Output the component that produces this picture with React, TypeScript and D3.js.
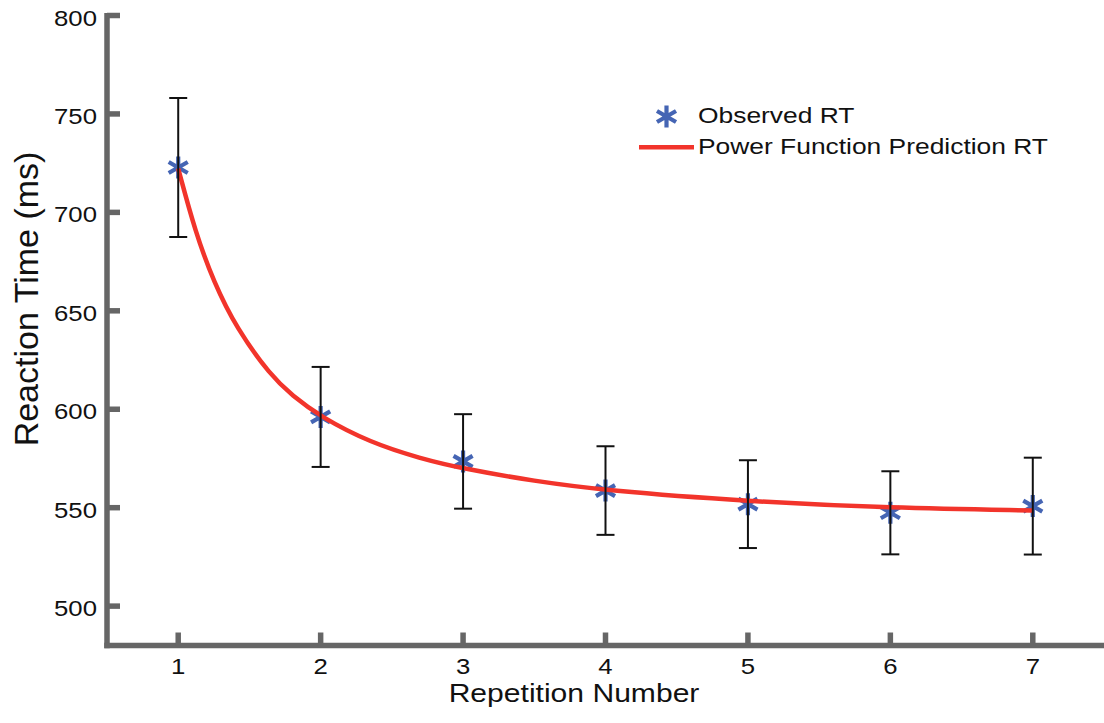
import React from "react";
import * as d3 from "d3";

// Observed reaction times (ms) per repetition, with error bar half-widths
const repetitions = [1, 2, 3, 4, 5, 6, 7];
const observedRT = [722.8, 596.1, 573.5, 558.7, 551.8, 547.4, 550.8];
const errorRT = [35.3, 25.4, 24.0, 22.5, 22.3, 21.1, 24.6];

// Power function prediction curve, sampled along repetition number
const predictionReps = [1.0, 1.12, 1.25, 1.41, 1.65, 1.8, 2.0, 2.35, 2.7, 3.0, 3.5, 4.0, 5.0, 6.0, 7.0];
const predictionRT = [722.3, 690, 664.5, 641, 617, 607, 596.1, 583, 575, 569.8, 563.5, 558.7, 553.2, 549.8, 548.6];

const yTicks = [500, 550, 600, 650, 700, 750, 800];
const xTicks = [1, 2, 3, 4, 5, 6, 7];

const legendLabels = ["Observed RT", "Power Function Prediction RT"];

const W = 1104;
const H = 723;
const AXIS_COLOR = "#666666";
const STAR_COLOR = "#4565b4";
const CURVE_COLOR = "#f2342b";
const TEXT_COLOR = "#111111";
const FONT = "'Liberation Sans', Arial, Helvetica, sans-serif";

const x = d3.scaleLinear().domain([0.5, 7.5]).range([107, 1104]);
const y = d3.scaleLinear().domain([480, 800]).range([645.5, 15.5]);

function Star({ cx, cy }: { cx: number; cy: number }) {
  // six-armed asterisk marker
  const r = 11;
  const t = r * Math.cos(Math.PI / 6);
  const u = r * Math.sin(Math.PI / 6);
  const d = `M0,${-r}L0,${r}M${-t},${-u}L${t},${u}M${-t},${u}L${t},${-u}`;
  return (
    <path
      d={d}
      transform={`translate(${cx},${cy})`}
      stroke={STAR_COLOR}
      strokeWidth={4.2}
      strokeLinecap="butt"
      fill="none"
    />
  );
}

export default function App() {
  const line = d3
    .line<number>()
    .x((_, i) => x(predictionReps[i]))
    .y((d) => y(d))
    .curve(d3.curveBasis);

  const [yMin, yMax] = y.domain();
  const [xMin, xMax] = x.domain();
  const capHalf = 9;

  return (
    <svg
      width={W}
      height={H}
      style={{ position: "absolute", left: 0, top: 0, background: "#ffffff" }}
      fontFamily={FONT}
    >
      <rect width={W} height={H} fill="#ffffff" />

      {/* axes */}
      <g stroke={AXIS_COLOR} strokeWidth={5.5} fill="none">
        <line x1={x(xMin)} x2={x(xMin)} y1={y(yMax) - 2.5} y2={y(yMin) + 2.75} />
        <line x1={x(xMin) - 2.75} x2={x(xMax)} y1={y(yMin)} y2={y(yMin)} />
        {yTicks.map((t) => (
          <line key={`yt${t}`} x1={x(xMin)} x2={x(xMin) + 13} y1={y(t)} y2={y(t)} />
        ))}
        {xTicks.map((t) => (
          <line key={`xt${t}`} x1={x(t)} x2={x(t)} y1={y(yMin)} y2={y(yMin) - 13} />
        ))}
      </g>

      {/* tick labels */}
      <g fill={TEXT_COLOR} fontSize={23}>
        {yTicks.map((t) => (
          <text
            key={`yl${t}`}
            transform={`translate(${x(xMin) - 10},${y(t) + 10}) scale(1.12,1)`}
            textAnchor="end"
          >
            {t}
          </text>
        ))}
        {xTicks.map((t) => (
          <text
            key={`xl${t}`}
            transform={`translate(${x(t)},${y(yMin) + 28.5}) scale(1.12,1)`}
            textAnchor="middle"
          >
            {t}
          </text>
        ))}
      </g>

      {/* axis titles */}
      <text
        transform={`translate(574,702) scale(1.18,1)`}
        textAnchor="middle"
        fontSize={25.5}
        fill={TEXT_COLOR}
      >
        Repetition Number
      </text>
      <text
        transform={`translate(38,299) rotate(-90)`}
        textAnchor="middle"
        fontSize={34}
        fill={TEXT_COLOR}
      >
        Reaction Time (ms)
      </text>

      {/* observed markers */}
      {repetitions.map((r, i) => (
        <Star key={`s${r}`} cx={x(r)} cy={y(observedRT[i])} />
      ))}

      {/* power function prediction */}
      <path d={line(predictionRT) ?? ""} fill="none" stroke={CURVE_COLOR} strokeWidth={4.5} />

      {/* error bars */}
      <g stroke={TEXT_COLOR} strokeWidth={2}>
        {repetitions.map((r, i) => {
          const cx = x(r);
          const top = y(observedRT[i] + errorRT[i]);
          const bot = y(observedRT[i] - errorRT[i]);
          return (
            <g key={`e${r}`}>
              <line x1={cx} x2={cx} y1={top} y2={bot} />
              <line x1={cx - capHalf} x2={cx + capHalf} y1={top} y2={top} />
              <line x1={cx - capHalf} x2={cx + capHalf} y1={bot} y2={bot} />
            </g>
          );
        })}
      </g>

      {/* legend */}
      <g>
        <Star cx={666.5} cy={116.5} />
        <line x1={639} x2={694} y1={147.3} y2={147.3} stroke={CURVE_COLOR} strokeWidth={4.5} />
        <text transform={`translate(698,122.5) scale(1.2,1)`} fontSize={22} fill={TEXT_COLOR}>
          {legendLabels[0]}
        </text>
        <text transform={`translate(698,153.5) scale(1.2,1)`} fontSize={22} fill={TEXT_COLOR}>
          {legendLabels[1]}
        </text>
      </g>
    </svg>
  );
}
